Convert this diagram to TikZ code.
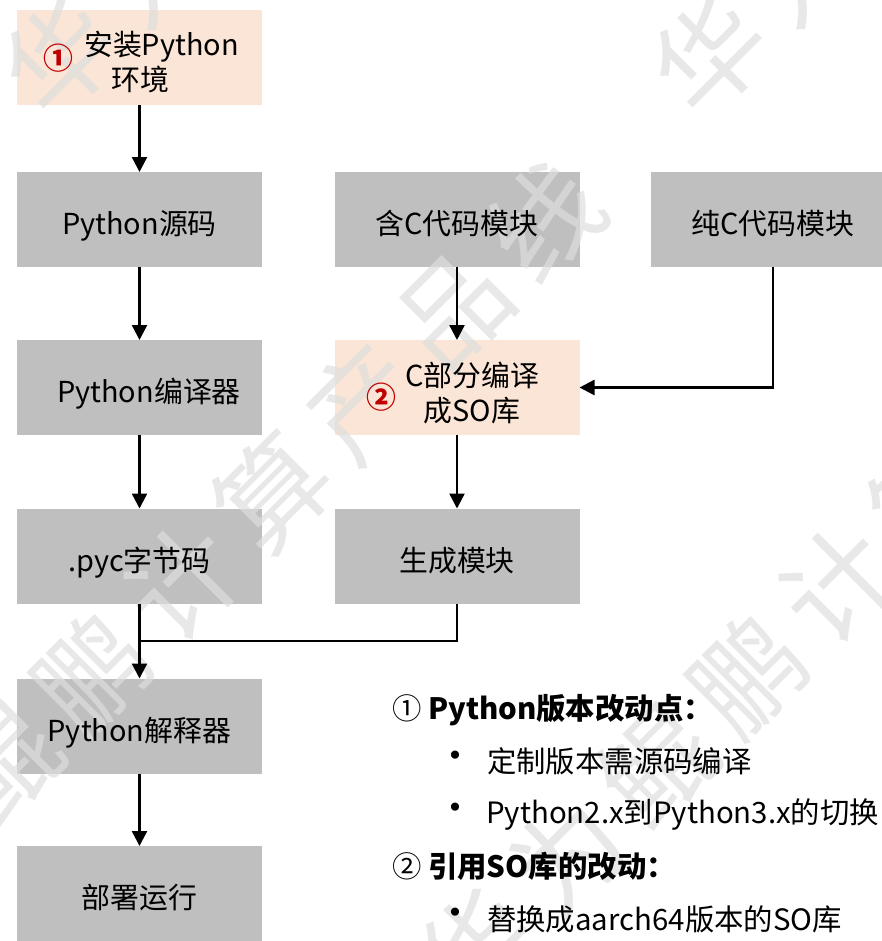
\documentclass[tikz,border=0pt]{standalone}
\usepackage{fontspec}
\setmainfont{Noto Sans CJK SC}
\newfontfamily\wmfont{Noto Sans CJK SC}
\newfontfamily\dotfont{DejaVu Sans}
\usetikzlibrary{arrows.meta}

\definecolor{boxgray}{HTML}{BFBFBF}
\definecolor{peach}{HTML}{FBE5D6}
\definecolor{markred}{HTML}{C00000}
\definecolor{wmgray}{HTML}{DEDEDE}

\pgfdeclarelayer{bg}
\pgfdeclarelayer{wm}
\pgfsetlayers{bg,wm,main}

\tikzset{
  box/.style={minimum width=245bp, minimum height=95bp, inner sep=0pt, outer sep=0pt, draw=none},
  lbl/.style={inner sep=0pt, anchor=base, font=\fontsize{29}{36}\selectfont},
  lbltwo/.style={inner sep=0pt, align=center, font=\fontsize{29}{36}\selectfont},
  num/.style={inner sep=0pt, text=markred, font=\bfseries\fontsize{30}{30}\selectfont},
  flow/.style={line width=2.4bp, -{Triangle[length=15bp,width=15bp]}},
  link/.style={line width=2.4bp},
  note/.style={inner sep=0pt, anchor=base west, font=\fontsize{29.5}{29.5}\selectfont},
  dot/.style={inner sep=0pt, anchor=base, font=\dotfont\fontsize{28}{28}\selectfont},
  wmark/.style={inner sep=0pt, rotate=45, text=wmgray, opacity=0.7,
    font=\wmfont\fontsize{110}{110}\selectfont},
}

\begin{document}
\begin{tikzpicture}[x=1bp, y=-1bp]
\useasboundingbox (0,0) rectangle (882,941);

% box fills
\begin{pgfonlayer}{bg}
  \node[box, fill=peach]   (inst)   at (139.5,57.5)  {};
  \node[box, fill=boxgray] (pysrc)  at (139.5,219.5) {};
  \node[box, fill=boxgray] (pycomp) at (139.5,387.5) {};
  \node[box, fill=boxgray] (pyc)    at (139.5,556)   {};
  \node[box, fill=boxgray] (interp) at (139.5,726)   {};
  \node[box, fill=boxgray] (deploy) at (139.5,893.5) {};
  \node[box, fill=boxgray] (cmod)   at (457,219.5)   {};
  \node[box, fill=peach]   (cbuild) at (457,387.5)   {};
  \node[box, fill=boxgray] (genmod) at (457,556)     {};
  \node[box, fill=boxgray] (purec)  at (773,219.5)   {};
\end{pgfonlayer}

% diagonal watermark rows
\begin{pgfonlayer}{wm}
\foreach \p/\s in {83/3.5, 541/-795, 1006/-333}{
  \foreach \r in {-1,0,1}{
    \foreach \ch [count=\k from 0] in {华,为,鲲,鹏,计,算,产,品,线}{
      \pgfmathsetmacro\ss{\s+\r*1258+\k*128}
      \pgfmathsetmacro\wx{(\p+\ss)/sqrt(2)}
      \pgfmathsetmacro\wy{(\p-\ss)/sqrt(2)}
      \pgfmathtruncatemacro\vis{(\wx>-80)&&(\wx<960)&&(\wy>-80)&&(\wy<1020)}
      \ifnum\vis=1 \node[wmark] (wm-\p-\r-\k) at (\wx,\wy) {\ch};\fi
    }
  }
}
\end{pgfonlayer}

% box labels
\node[num] (inst-n) at (58,58.5) {①};
\node[lbltwo] (inst-t) at (140,62) {\hspace*{43bp}安装Python\\环境};
\node[lbl] (pysrc-t)  at ([yshift=-15bp]pysrc.center)  {Python源码};
\node[lbl] (pycomp-t) at ([xshift=9.5bp,yshift=-15bp]pycomp.center) {Python编译器};
\node[lbl] (pyc-t)    at ([yshift=-15bp]pyc.center)    {.pyc字节码};
\node[lbl] (interp-t) at ([yshift=-15bp]interp.center) {Python解释器};
\node[lbl] (deploy-t) at ([yshift=-15bp]deploy.center) {部署运行};
\node[lbl] (cmod-t)   at ([yshift=-15bp]cmod.center)   {含C代码模块};
\node[lbl] (genmod-t) at ([yshift=-15bp]genmod.center) {生成模块};
\node[lbl] (purec-t)  at ([yshift=-15bp]purec.center)  {纯C代码模块};
\node[num] (cbuild-n) at (381,397.5) {②};
\node[lbltwo] (cbuild-t) at (472,393) {C部分编译\\成SO库};

% connectors
\draw[flow] (inst) -- (pysrc);
\draw[flow] (pysrc) -- (pycomp);
\draw[flow] (pycomp) -- (pyc);
\draw[flow] (pyc) -- (interp);
\draw[flow] (interp) -- (deploy);
\draw[flow] (cmod) -- (cbuild);
\draw[flow] (cbuild) -- (genmod);
\draw[flow] (purec.south) |- (cbuild.east);
\coordinate (merge) at (139.5,641);
\draw[link] (genmod.south) |- (merge);

% notes
\node[note] (n1) at (392,719) {① \textbf{Python版本改动点：}};
\node[dot]  (b1) at (455,765) {•};
\node[note] (n1a) at (487,772) {定制版本需源码编译};
\node[dot]  (b2) at (455,817) {•};
\node[note] (n1b) at (486,823) {Python2.x到Python3.x的切换};
\node[note] (n2) at (392,877) {② \textbf{引用SO库的改动：}};
\node[dot]  (b3) at (455,922) {•};
\node[note] (n2a) at (487,930) {替换成aarch64版本的SO库};
\end{tikzpicture}
\end{document}
